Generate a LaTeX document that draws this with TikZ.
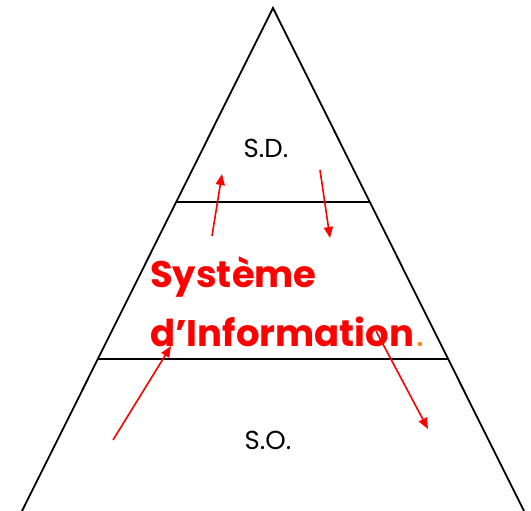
\documentclass[tikz,border=0pt]{standalone}
\usepackage{fontspec}
\setmainfont{Poppins}
\usetikzlibrary{positioning,arrows.meta}
\definecolor{SIred}{RGB}{255,0,0}
\definecolor{SIorange}{RGB}{240,140,40}

\begin{document}
\begin{tikzpicture}[x=1pt,y=-1pt,
		flow/.style={-{Triangle[length=11pt,width=9pt]},SIred,line width=1.6pt},
		level/.style={font=\fontsize{26}{28}\selectfont},
		sysname/.style={SIred,font=\fontsize{37}{40}\selectfont\bfseries,inner sep=0pt,anchor=base west}]
	\useasboundingbox (0,0) rectangle (531,511);
	\coordinate(Apex) at (273,8);
	\coordinate(BaseLeft) at (22,511);
	\coordinate(BaseRight) at (524,511);
	
	\draw[line width=1.8pt] (BaseLeft) -- (Apex) -- (BaseRight);
	\draw[line width=1.8pt] (176,202) -- (370,202);
	\draw[line width=1.8pt] (98,359) -- (448,359);
	
	\node[level] (SD) at (266,148) {S.D.};
	\node[level] (SO) at (268,440) {S.O.};
	
	\node[sysname] (Systeme) at (150,287) {Système};
	\node[sysname] (Information) at (150,346) {d’Information};
	\node[right=2pt of Information.base east,anchor=base west,inner sep=0pt,SIorange,font=\fontsize{24}{26}\selectfont\bfseries] (Dot) {.};
	
	\coordinate(UpStart) at (212,236);
	\coordinate(UpEnd) at (222,174);
	\coordinate(DownStart) at (320,170);
	\coordinate(DownEnd) at (330,238);
	\coordinate(InStart) at (113,440);
	\coordinate(InEnd) at (171,346);
	\coordinate(OutStart) at (376,331);
	\coordinate(OutEnd) at (428,429);
	
	\draw[flow] (UpStart) -- (UpEnd);
	\draw[flow] (DownStart) -- (DownEnd);
	\draw[flow] (InStart) -- (InEnd);
	\draw[flow] (OutStart) -- (OutEnd);
\end{tikzpicture}
\end{document}
